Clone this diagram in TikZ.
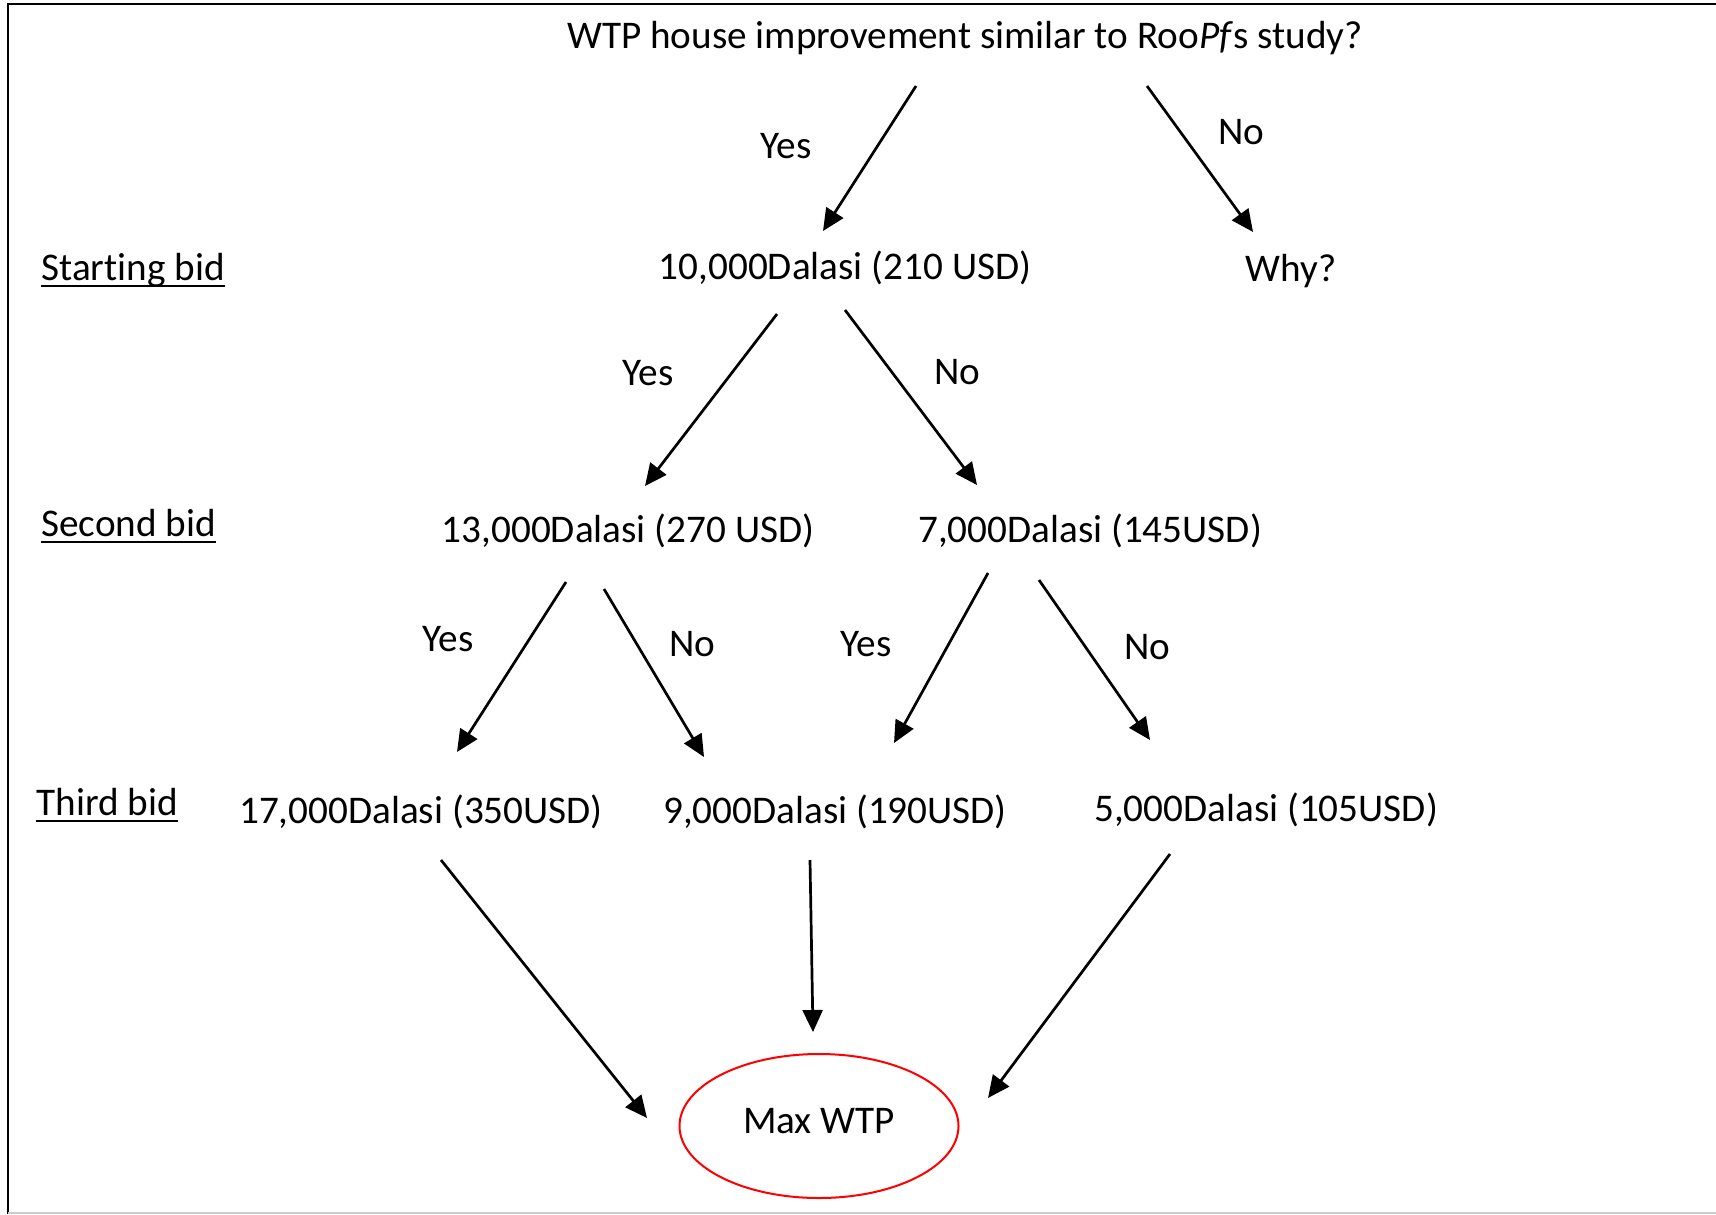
\documentclass[tikz,border=0pt]{standalone}
\usepackage{fontspec}
\setmainfont[Ligatures={NoCommon}]{Carlito}
\usepackage{tikz}
\usetikzlibrary{arrows.meta,shapes.geometric}

\begin{document}
\begin{tikzpicture}[x=0.5pt,y=-0.5pt,
  every node/.style={font=\fontsize{19.6}{23}\selectfont},
  arr/.style={-{Triangle[length=11pt,width=10pt]},line width=1.35pt},
  lvl/.style={anchor=base west,inner sep=0pt},
  uline/.style={line width=1.3pt}]
  \useasboundingbox (0,0) rectangle (1716,1214);
  % frame
  \draw[line width=0.8pt] (8,1214) -- (8,4) -- (1716,4);
  \draw[gray!40,line width=0.8pt] (8,1213) -- (1716,1213);

  % questions and bids
  \node (Q) at (965,38) {WTP house improvement similar to Roo\textit{Pf}s study?};
  \node (B10) at (845,268) {10,000Dalasi (210 USD)};
  \node (Why) at (1291,271) {Why?};
  \node (B13) at (628,531) {13,000Dalasi (270 USD)};
  \node (B7) at (1090,531) {7,000Dalasi (145USD)};
  \node (B17) at (421,812) {17,000Dalasi (350USD)};
  \node (B9) at (835,812) {9,000Dalasi (190USD)};
  \node (B5) at (1266,810) {5,000Dalasi (105USD)};
  \node (Max) [ellipse,draw=red,line width=1pt,inner sep=0pt,
    minimum width=139.5pt,minimum height=72pt] at (819,1126) {\raisebox{5.5pt}{Max WTP}};

  % levels
  \node (L1) [lvl] at (41,280) {Starting bid};
  \node (L2) [lvl] at (41,536) {Second bid};
  \node (L3) [lvl] at (36,815) {Third bid};
  \draw[uline] ([yshift=-3pt]L1.base west) -- ([yshift=-3pt]L1.base east);
  \draw[uline] ([yshift=-3pt]L2.base west) -- ([yshift=-3pt]L2.base east);
  \draw[uline] ([yshift=-3pt]L3.base west) -- ([yshift=-3pt]L3.base east);

  % arrow ends
  \coordinate (q1) at (916,86);   \coordinate (b10n) at (823,231);
  \coordinate (q2) at (1147,86);  \coordinate (whyn) at (1253,232);
  \coordinate (b10a) at (777,314); \coordinate (b13n) at (645,486);
  \coordinate (b10b) at (845,310); \coordinate (b7n) at (977,485);
  \coordinate (b13a) at (566,582); \coordinate (b17n) at (457,752);
  \coordinate (b13b) at (604,589); \coordinate (b9n) at (704,757);
  \coordinate (b7a) at (988,573);  \coordinate (b9m) at (894,743);
  \coordinate (b7b) at (1039,580); \coordinate (b5n) at (1150,740);
  \coordinate (b17s) at (441,860); \coordinate (maxa) at (647,1118);
  \coordinate (b9s) at (810,860);  \coordinate (maxb) at (813,1032);
  \coordinate (b5s) at (1170,854); \coordinate (maxc) at (988,1098);

  \draw[arr] (q1) -- (b10n);
  \draw[arr] (q2) -- (whyn);
  \draw[arr] (b10a) -- (b13n);
  \draw[arr] (b10b) -- (b7n);
  \draw[arr] (b13a) -- (b17n);
  \draw[arr] (b13b) -- (b9n);
  \draw[arr] (b7a) -- (b9m);
  \draw[arr] (b7b) -- (b5n);
  \draw[arr] (b17s) -- (maxa);
  \draw[arr] (b9s) -- (maxb);
  \draw[arr] (b5s) -- (maxc);

  % answers
  \node (y1) at (786,146) {Yes};
  \node (n1) at (1241,132) {No};
  \node (y2) at (648,373) {Yes};
  \node (n2) at (957,372) {No};
  \node (y3) at (448,639) {Yes};
  \node (n3) at (692,644) {No};
  \node (y4) at (866,644) {Yes};
  \node (n4) at (1147,647) {No};
\end{tikzpicture}
\end{document}
